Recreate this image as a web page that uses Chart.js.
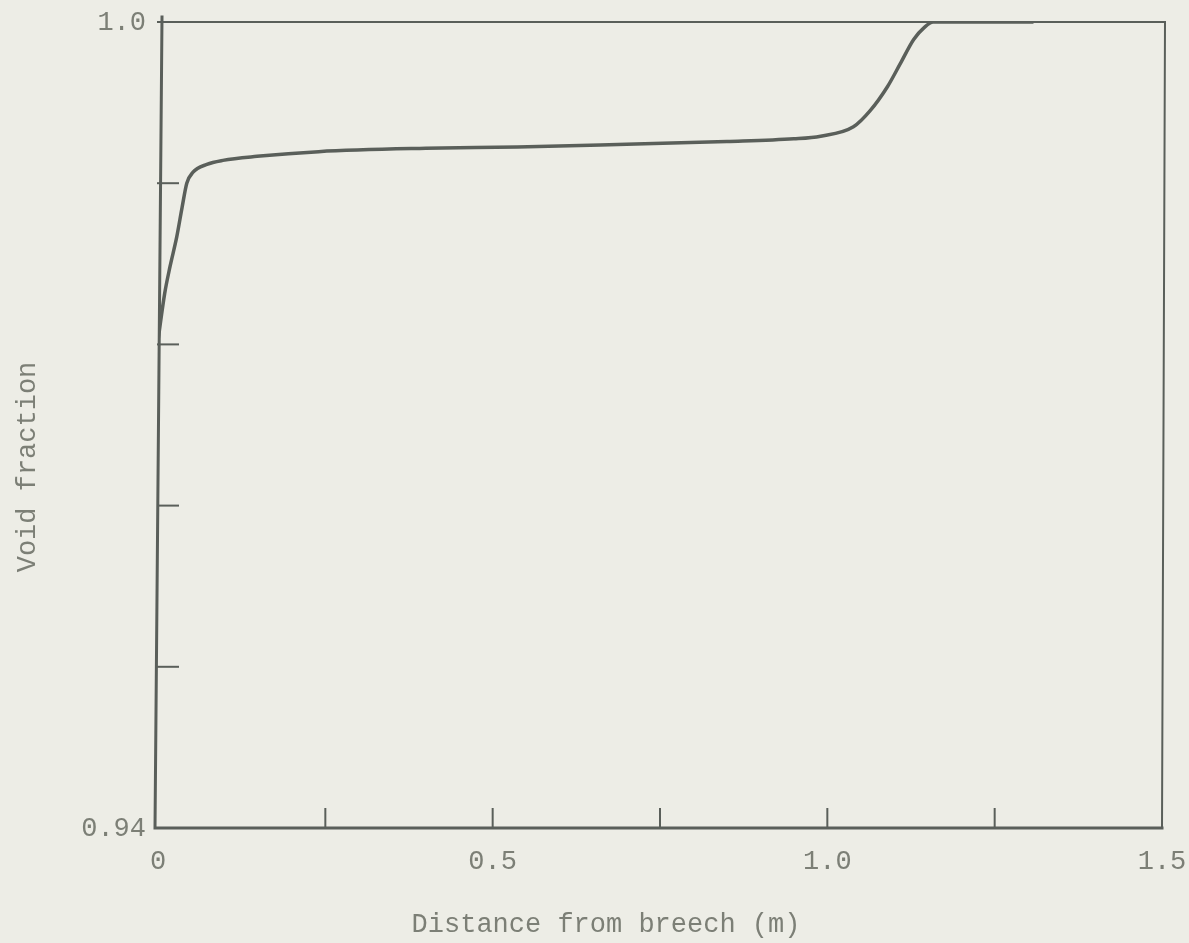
<!DOCTYPE html>
<html>
<head>
<meta charset="utf-8">
<script src="https://cdn.jsdelivr.net/npm/chart.js@4.4.0/dist/chart.umd.min.js"></script>
<style>
  html, body { margin: 0; padding: 0; background: #edede6; }
  #wrap { width: 1189px; height: 943px; }
</style>
</head>
<body>
<div id="wrap"><canvas id="chartCanvas" width="1189" height="943"></canvas></div>
<script>
// data
const distance = [0, 0.010, 0.018, 0.028, 0.036, 0.043, 0.052, 0.073, 0.097, 0.148, 0.24, 0.40, 0.537, 0.70, 0.85, 0.95, 0.99, 1.039, 1.064, 1.090, 1.109, 1.129, 1.145, 1.158, 1.20, 1.308];
const voidFraction = [0.9763, 0.9798, 0.9818, 0.9840, 0.9862, 0.9880, 0.9888, 0.9894, 0.9897, 0.9900, 0.99035, 0.9906, 0.9907, 0.9909, 0.9911, 0.9913, 0.9915, 0.9922, 0.9934, 0.9952, 0.9969, 0.9987, 0.9996, 1.0, 1.0, 1.0];

const xTicks = [0, 0.25, 0.5, 0.75, 1.0, 1.25, 1.5];
const xTickLabels = ['0', '', '0.5', '', '1.0', '', '1.5'];
const yTicks = [0.94, 0.952, 0.964, 0.976, 0.988, 1.0];
const yTickLabels = ['0.94', '', '', '', '', '1.0'];

const inkColor = '#5a5f5a';
const textColor = '#7c7f76';
const fontFamily = '"Liberation Mono", "DejaVu Sans Mono", monospace';

// frame, inner ticks and labels drawn by hand (old typewriter style plot)
const framePlugin = {
    id: 'frame',
    afterDatasetsDraw(chart) {
        const { ctx, chartArea: a, scales } = chart;
        const xs = scales.x, ys = scales.y;
        ctx.save();
        ctx.strokeStyle = inkColor;
        ctx.lineCap = 'square';

        // top + right border
        ctx.lineWidth = 2;
        ctx.beginPath();
        ctx.moveTo(a.left, a.top);
        ctx.lineTo(a.right + 3, a.top);
        ctx.lineTo(a.right, a.bottom);
        ctx.stroke();

        // left + bottom axes
        ctx.lineWidth = 3;
        ctx.beginPath();
        ctx.moveTo(a.left + 4, a.top - 5);
        ctx.lineTo(a.left - 3, a.bottom);
        ctx.lineTo(a.right, a.bottom);
        ctx.stroke();

        // inner ticks
        ctx.lineWidth = 2;
        yTicks.forEach(v => {
            if (v === yTicks[0] || v === yTicks[yTicks.length - 1]) return;
            const py = ys.getPixelForValue(v);
            ctx.beginPath();
            ctx.moveTo(a.left, py);
            ctx.lineTo(a.left + 20, py);
            ctx.stroke();
        });
        xTicks.forEach(v => {
            if (v === xTicks[0] || v === xTicks[xTicks.length - 1]) return;
            const px = xs.getPixelForValue(v);
            ctx.beginPath();
            ctx.moveTo(px, a.bottom);
            ctx.lineTo(px, a.bottom - 19);
            ctx.stroke();
        });

        // tick labels
        ctx.fillStyle = textColor;
        ctx.font = '27px ' + fontFamily;
        ctx.textBaseline = 'middle';
        ctx.textAlign = 'center';
        xTicks.forEach((v, i) => {
            if (!xTickLabels[i]) return;
            ctx.fillText(xTickLabels[i], xs.getPixelForValue(v), a.bottom + 34);
        });
        ctx.textAlign = 'right';
        yTicks.forEach((v, i) => {
            if (!yTickLabels[i]) return;
            ctx.fillText(yTickLabels[i], a.left - 12, ys.getPixelForValue(v) + 1);
        });

        // axis titles
        ctx.textAlign = 'center';
        ctx.fillText('Distance from breech (m)', 606, 925);
        ctx.translate(28, 467);
        ctx.rotate(-Math.PI / 2);
        ctx.fillText('Void fraction', 0, 0);
        ctx.restore();
    }
};

const ctx = document.getElementById('chartCanvas').getContext('2d');
const chart = new Chart(ctx, {
    type: 'line',
    data: {
        datasets: [{
            label: 'Void fraction',
            data: distance.map((d, i) => ({ x: d, y: voidFraction[i] })),
            borderColor: inkColor,
            borderWidth: 3.5,
            pointRadius: 0,
            fill: false,
            cubicInterpolationMode: 'monotone'
        }]
    },
    options: {
        responsive: false,
        animation: false,
        layout: { padding: { left: 158, right: 27, top: 22, bottom: 115 } },
        scales: {
            x: { type: 'linear', min: 0, max: 1.5, display: false },
            y: { type: 'linear', min: 0.94, max: 1.0, display: false }
        },
        plugins: { legend: { display: false }, tooltip: { enabled: false } }
    },
    plugins: [framePlugin]
});
</script>
</body>
</html>
